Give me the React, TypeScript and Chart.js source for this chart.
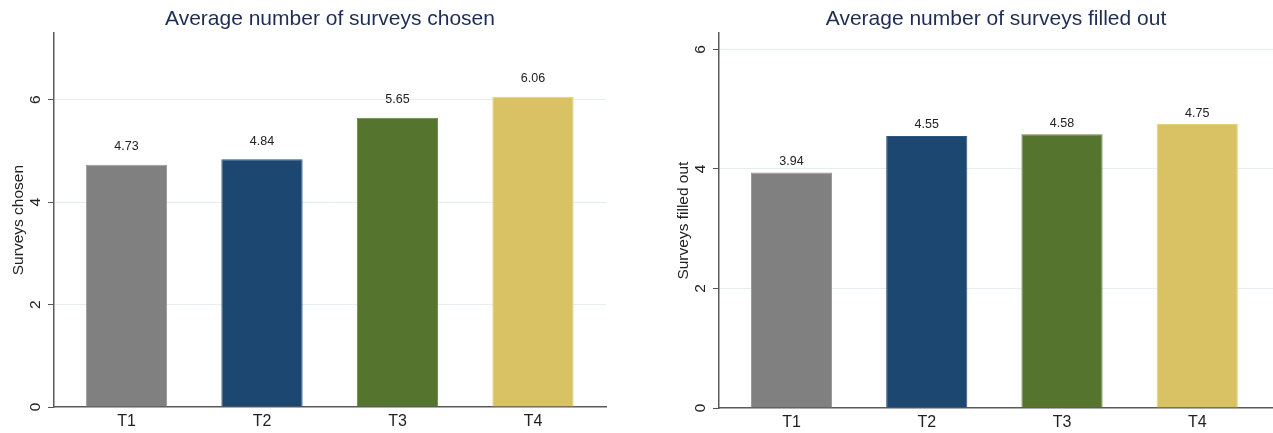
import React, { useEffect, useRef } from "react";
import { Chart, registerables } from "chart.js";

Chart.register(...registerables);

const categories = ["T1", "T2", "T3", "T4"];
const chosenValues = [4.73, 4.84, 5.65, 6.06];
const filledValues = [3.94, 4.55, 4.58, 4.75];
const barColors = ["#808080", "#1c4770", "#55752f", "#d9c264"];
const barEdgeColors = ["#959595", "#2d5780", "#66853f", "#e3d07e"];
const yTickValues = [0, 2, 4, 6];
const chosenTitle = "Average number of surveys chosen";
const filledTitle = "Average number of surveys filled out";
const chosenAxisTitle = "Surveys chosen";
const filledAxisTitle = "Surveys filled out";

const FONT = '"Liberation Sans", Arial, sans-serif';

type PanelProps = {
  title: string;
  axisTitle: string;
  values: number[];
  yMax: number;
  xMin: number;
  xMax: number;
  labelOffset: number;
  left: number;
  width: number;
  padRight: number;
  bottomH: number;
};

function BarPanel(props: PanelProps) {
  const ref = useRef<HTMLCanvasElement | null>(null);
  useEffect(() => {
    if (!ref.current) return;
    const valueLabels = {
      id: "valueLabels",
      afterDatasetsDraw(chart: any) {
        const ctx = chart.ctx;
        const meta = chart.getDatasetMeta(0);
        ctx.save();
        ctx.font = `12.5px ${FONT}`;
        ctx.fillStyle = "#222222";
        ctx.textAlign = "center";
        ctx.textBaseline = "middle";
        meta.data.forEach((el: any, i: number) => {
          ctx.fillText(Number(props.values[i]).toFixed(2), el.x, el.y - props.labelOffset);
        });
        ctx.restore();
      },
    };
    const chart = new Chart(ref.current, {
      type: "bar",
      data: {
        datasets: [
          {
            data: props.values.map((v, i) => ({ x: i, y: v })),
            backgroundColor: barColors,
            borderColor: barEdgeColors,
            borderWidth: 1,
            barPercentage: 0.6,
            categoryPercentage: 1,
          },
        ],
      },
      options: {
        responsive: false,
        animation: false,
        layout: { padding: { left: 0, right: props.padRight, top: 0, bottom: 0 } },
        plugins: {
          legend: { display: false },
          tooltip: { enabled: false },
          title: {
            display: true,
            text: props.title,
            fullSize: false,
            color: "#1e2d55",
            font: { family: FONT, size: 21, weight: "normal", lineHeight: 1.2 },
            padding: { top: 7, bottom: 1 },
          },
        },
        scales: {
          x: {
            type: "linear",
            min: props.xMin,
            max: props.xMax,
            offset: false,
            afterFit: (s: any) => {
              s.height = props.bottomH;
            },
            afterBuildTicks: (s: any) => {
              s.ticks = categories.map((_, i) => ({ value: i }));
            },
            grid: { display: false, drawTicks: false, offset: false },
            border: { color: "#5a5a5a", width: 1.5 },
            ticks: {
              color: "#222222",
              padding: 5,
              font: { family: FONT, size: 16 },
              callback: (v: any) => categories[Math.round(Number(v))] ?? "",
            },
          },
          y: {
            min: 0,
            max: props.yMax,
            afterFit: (s: any) => {
              s.width = 54;
            },
            afterBuildTicks: (s: any) => {
              s.ticks = yTickValues.map((v) => ({ value: v }));
            },
            ticks: {
              minRotation: 90,
              maxRotation: 90,
              crossAlign: "center",
              padding: 8,
              color: "#222222",
              font: { family: FONT, size: 15.5 },
            },
            grid: {
              color: (c: any) => (c.tick && c.tick.value === 0 ? "rgba(0,0,0,0)" : "#e5edf2"),
              lineWidth: 1,
              tickLength: 6,
              tickColor: "#555555",
              drawTicks: true,
            },
            border: { color: "#5a5a5a", width: 1.5 },
            title: {
              display: true,
              text: props.axisTitle,
              color: "#222222",
              font: { family: FONT, size: 15.5 },
              padding: { top: 9, bottom: 0 },
            },
          },
        },
      } as any,
      plugins: [valueLabels],
    });
    return () => chart.destroy();
  }, []);
  return (
    <div style={{ position: "absolute", left: props.left, top: 0, width: props.width, height: 433 }}>
      <canvas ref={ref} width={props.width} height={433} style={{ display: "block" }} />
    </div>
  );
}

export default function App() {
  return (
    <div
      style={{
        position: "absolute",
        left: 0,
        top: 0,
        width: 1273,
        height: 433,
        background: "#ffffff",
        overflow: "hidden",
      }}
    >
      <BarPanel
        title={chosenTitle}
        axisTitle={chosenAxisTitle}
        values={chosenValues}
        yMax={7.3}
        xMin={-0.535}
        xMax={3.539}
        labelOffset={18}
        left={0}
        width={620}
        padRight={14}
        bottomH={26}
      />
      <BarPanel
        title={filledTitle}
        axisTitle={filledAxisTitle}
        values={filledValues}
        yMax={6.27}
        xMin={-0.536}
        xMax={3.56}
        labelOffset={11}
        left={665}
        width={608}
        padRight={0}
        bottomH={25}
      />
    </div>
  );
}
